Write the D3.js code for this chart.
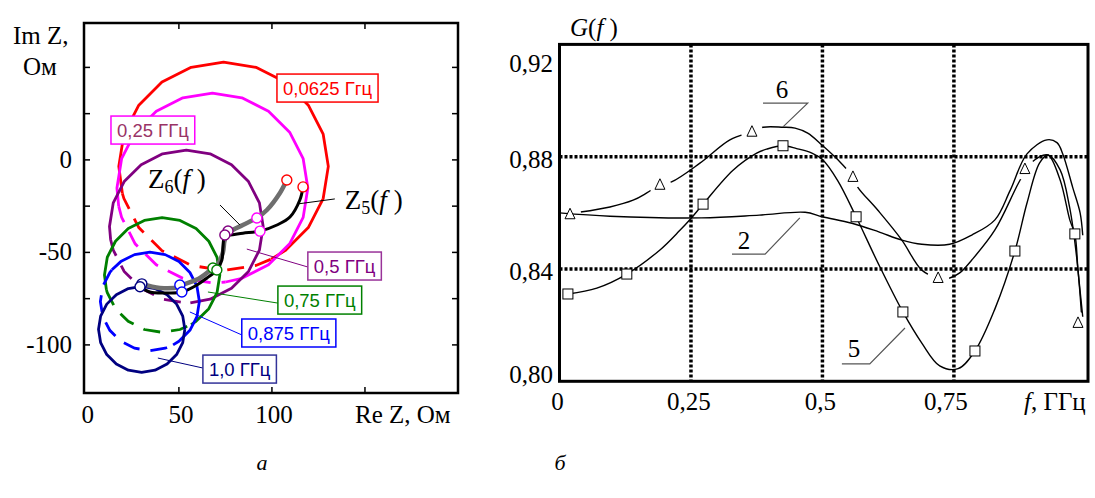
<!DOCTYPE html>
<html>
<head>
<meta charset="utf-8">
<script src="https://cdn.jsdelivr.net/npm/d3@7"></script>
<style>
  body { margin: 0; background: #fff; }
  svg { display: block; }
  text { font-family: "Liberation Serif", "Times New Roman", serif; fill: #000; }
  text.lbl { font-family: "Liberation Sans", Arial, sans-serif; }
</style>
</head>
<body>
<div id="chart"></div>
<script>
// ---------- panel а : impedance loci ----------
var freqs = ["0,0625 Ггц", "0,25 ГГц", "0,5 ГГц", "0,75 ГГц", "0,875 ГГц", "1,0 ГГц"];
var locusRe = [74, 68, 54, 41, 34.4, 30];      // centre, Re Z (Ом)
var locusIm = [-3.5, -15.2, -36, -62.2, -76.5, -91.6]; // centre, Im Z (Ом)
var locusR = [56.3, 51.3, 41.3, 31, 26.6, 23.2];
var hiddenFrom = [195, 191, 190, 195, 140, null]; // dashed part of locus, degrees
var hiddenTo = [297, 278, 273, 300, 298, null];

// Z5(f), Z6(f) curves, [Re, Im]
var z5 = [[116.7, -14.6], [115.0, -21.7], [109.7, -30.9], [102.7, -35.2], [93.6, -38.5], [84.4, -39.6],
  [77.4, -40.6], [74.7, -40.6], [73.7, -47.1], [73.1, -54.1], [70.4, -59.5], [65.1, -63.8],
  [59.7, -67.6], [51.6, -71.4], [43.6, -71.9], [34.4, -71.4], [29.1, -68.6]];
var z6 = [[108.0, -10.9], [104.3, -17.9], [97.3, -27.1], [91.9, -31.4], [84.4, -35.2], [77.4, -38.9],
  [74.7, -43.2], [73.7, -49.8], [71.0, -56.3], [68.3, -58.4], [61.3, -63.8], [52.2, -67.6],
  [50.5, -68.6], [39.8, -69.2], [30.1, -67.0]];
var z5Marks = [[116.7, -14.6], [93.6, -38.5], [74.7, -40.6], [70.4, -59.5], [51.6, -71.4], [29.1, -68.6]];
var z6Marks = [[108.0, -10.9], [91.9, -31.4], [76.4, -38.4], [68.3, -58.4], [50.5, -67.6], [30.1, -67.0]];

// label boxes (top-left corner, Ом) and leader lines
var boxRe = [102.7, 13.5, 119.3, 103.2, 83.8, 62.9];
var boxIm = [46.4, 23.7, -49.8, -68.2, -86.0, -105.5];
var leadFrom = [null, null, [86.5, -48.2], [65.6, -71.4], [55.9, -82.2], [38.7, -107.1]];
var leadTo = [null, null, [119.3, -57.9], [103.2, -77.4], [83.8, -94.6], [62.9, -112.5]];

var yTicksA = [50, 25, 0, -25, -50, -75, -100];
var yLabelsA = [0, -50, -100];
var xTicksA = [50, 100, 150];
var xLabelsA = [0, 50, 100];

// ---------- panel б : G(f) ----------
var g2F = [0, 0.096, 0.27, 0.38, 0.467, 0.5, 0.556, 0.606, 0.651, 0.689, 0.742, 0.784, 0.828, 0.857, 0.889, 0.927, 0.946, 0.957, 0.976, 0.99, 0.995];
var g2 = [0.86, 0.8588, 0.8582, 0.8592, 0.8602, 0.8586, 0.8563, 0.8533, 0.8503, 0.8488, 0.8488, 0.8521, 0.8575, 0.868, 0.881, 0.886, 0.885, 0.881, 0.869, 0.86, 0.852];

var g5F = [0.016, 0.071, 0.128, 0.191, 0.229, 0.25, 0.273, 0.33, 0.375, 0.394, 0.425, 0.451, 0.48, 0.5, 0.529, 0.564, 0.606, 0.653, 0.689, 0.723, 0.758, 0.79, 0.828, 0.866, 0.889, 0.913, 0.929, 0.952, 0.9705, 0.98, 0.986, 0.995];
var g5 = [0.8311, 0.8332, 0.8382, 0.8468, 0.8538, 0.858, 0.8631, 0.8752, 0.8813, 0.8827, 0.8839, 0.8829, 0.8813, 0.879, 0.8715, 0.8586, 0.842, 0.8247, 0.8136, 0.8055, 0.8045, 0.8108, 0.8258, 0.8464, 0.8635, 0.8778, 0.8806, 0.8717, 0.8574, 0.8525, 0.8396, 0.823];
var g5MarkF = [0.016, 0.128, 0.273, 0.425, 0.564, 0.653, 0.79, 0.866, 0.98];
var g5Mark = [0.8311, 0.8382, 0.8631, 0.8839, 0.8586, 0.8247, 0.8108, 0.8464, 0.8525];

var g6F = [0.04, 0.096, 0.14, 0.166, 0.191, 0.213, 0.267, 0.324, 0.366, 0.387, 0.425, 0.448, 0.472, 0.499, 0.53, 0.558, 0.567, 0.605, 0.651, 0.689, 0.72, 0.742, 0.761, 0.784, 0.828, 0.876, 0.898, 0.929, 0.952, 0.97, 0.984, 0.993];
var g6 = [0.8603, 0.8621, 0.8645, 0.8671, 0.87, 0.871, 0.8777, 0.886, 0.889, 0.8905, 0.8905, 0.8902, 0.8884, 0.8842, 0.8788, 0.8728, 0.8692, 0.861, 0.8503, 0.8396, 0.8368, 0.8368, 0.8386, 0.8432, 0.8539, 0.8717, 0.878, 0.8806, 0.8753, 0.862, 0.8432, 0.823];
var g6MarkF = [0.02, 0.191, 0.366, 0.558, 0.72, 0.885, 0.986];
var g6Mark = [0.8595, 0.87, 0.8889, 0.8728, 0.8368, 0.8756, 0.8208];

var gridF = [0.25, 0.5, 0.75];
var gridG = [0.84, 0.88];
var xLabelsB = [0, 0.25, 0.5, 0.75];
var xTextB = ["0", "0,25", "0,5", "0,75"];
var yLabelsB = [0.80, 0.84, 0.88, 0.92];
var yTextB = ["0,80", "0,84", "0,88", "0,92"];

// curve number callouts: text at [f,G], underline from..to, pointer end
var calloutText = ["6", "2", "5"];
var calloutAt = [[0.423, 0.9009], [0.351, 0.8471], [0.56, 0.8087]];
var calloutLine = [[0.387, 0.472, 0.8991], [0.328, 0.391, 0.8453], [0.537, 0.590, 0.8062]];
var calloutTip = [[0.425, 0.8906], [0.457, 0.8582], [0.657, 0.819]];

// ---------------------------------------------------------------
var W = 1095, H = 498;
var locusColor = ["#ff0000", "#ff00ff", "#800080", "#008000", "#0000ff", "#000080"];
var labelColor = ["#ff0000", "#993366", "#800080", "#008000", "#0000ff", "#000080"];
var boxColor = ["#ff0000", "#ff00ff", "#993399", "#008000", "#0000ff", "#333399"];

var svg = d3.select('#chart').append('svg')
	.attr('width', W)
	.attr('height', H);

var xa = d3.scaleLinear().domain([-1, 200]).range([84, 458]);
var ya = d3.scaleLinear().domain([-126, 74]).range([393, 23]);
var line = d3.line();

//points of the polygonal locus between two angles
function arcPts(i, a0, a1) {
	var angles = [a0], step = 18;
	for (var a = Math.ceil(a0 / step) * step; a < a1; a += step) {
		if (a > a0) angles.push(a);
	}
	angles.push(a1);
	return angles.map(function (a) {
		var t = a * Math.PI / 180;
		return [xa(locusRe[i] + locusR[i] * Math.cos(t)), ya(locusIm[i] + locusR[i] * Math.sin(t))];
	});
}

var panelA = svg.append('g').attr('class', 'panel-a');

freqs.forEach(function (f, i) {
	var hf = hiddenFrom[i], ht = hiddenTo[i];
	var solid = hf == null ? arcPts(i, 0, 360) : arcPts(i, ht, hf + 360);
	panelA.append('path')
		.attr('d', line(solid))
		.attr('fill', 'none')
		.attr('stroke', locusColor[i])
		.attr('stroke-width', 2.8)
		.attr('stroke-linejoin', 'round');
	if (hf != null) {
		panelA.append('path')
			.attr('d', line(arcPts(i, hf, ht)))
			.attr('fill', 'none')
			.attr('stroke', locusColor[i])
			.attr('stroke-width', 2.8)
			.attr('stroke-dasharray', '17,11');
	}
});

var zLine = d3.line()
	.x(function (d) { return xa(d[0]); })
	.y(function (d) { return ya(d[1]); })
	.curve(d3.curveCatmullRom.alpha(0.5));

panelA.append('path').attr('d', zLine(z6))
	.attr('fill', 'none').attr('stroke', '#6e6e6e').attr('stroke-width', 4.5).attr('stroke-linecap', 'round');
panelA.append('path').attr('d', zLine(z5))
	.attr('fill', 'none').attr('stroke', '#000').attr('stroke-width', 3).attr('stroke-linecap', 'round');

[z6Marks, z5Marks].forEach(function (marks) {
	panelA.append('g').selectAll('circle')
		.data(marks)
		.enter()
		.append('circle')
		.attr('cx', function (d) { return xa(d[0]); })
		.attr('cy', function (d) { return ya(d[1]); })
		.attr('r', 5)
		.attr('fill', '#fff')
		.attr('stroke', function (d, i) { return locusColor[i]; })
		.attr('stroke-width', 1.4);
});

//leaders + label boxes
freqs.forEach(function (f, i) {
	if (leadFrom[i]) {
		panelA.append('line')
			.attr('x1', xa(leadFrom[i][0])).attr('y1', ya(leadFrom[i][1]))
			.attr('x2', xa(leadTo[i][0])).attr('y2', ya(leadTo[i][1]))
			.attr('stroke', locusColor[i]).attr('stroke-width', 1);
	}
	var bx = xa(boxRe[i]), by = ya(boxIm[i]);
	var box = panelA.append('rect');
	var t = panelA.append('text')
		.attr('class', 'lbl')
		.attr('x', bx + 6)
		.attr('y', by + 21)
		.attr('font-size', 18.5)
		.style('fill', labelColor[i])
		.text(f);
	var w = t.node().getComputedTextLength();
	box.attr('x', bx).attr('y', by)
		.attr('width', w + 12).attr('height', 28)
		.attr('fill', '#fff')
		.attr('stroke', boxColor[i])
		.attr('stroke-width', 1.5);
});

//Z labels
function zLabel(re, im, sub) {
	var t = panelA.append('text')
		.attr('x', xa(re)).attr('y', ya(im))
		.attr('font-size', 27);
	t.append('tspan').text('Z');
	t.append('tspan').attr('font-size', 18).attr('dy', 5).text(sub);
	t.append('tspan').attr('dy', -5).text('(');
	t.append('tspan').attr('font-style', 'italic').text('f');
	t.append('tspan').text(' )');
}
zLabel(33.4, -15.2, '6');
zLabel(139.2, -26.5, '5');
panelA.append('line')
	.attr('x1', xa(72.1)).attr('y1', ya(-24.4)).attr('x2', xa(82.8)).attr('y2', ya(-35.2))
	.attr('stroke', '#000').attr('stroke-width', 1);
panelA.append('line')
	.attr('x1', xa(133.8)).attr('y1', ya(-21.1)).attr('x2', xa(113.9)).attr('y2', ya(-23.8))
	.attr('stroke', '#000').attr('stroke-width', 1);

//frame & ticks
panelA.append('rect')
	.attr('x', xa(-1)).attr('y', ya(74))
	.attr('width', xa(200) - xa(-1)).attr('height', ya(-126) - ya(74))
	.attr('fill', 'none').attr('stroke', '#000').attr('stroke-width', 2.5);
yTicksA.forEach(function (v) {
	panelA.append('line').attr('x1', xa(-1)).attr('x2', xa(-1) + 6).attr('y1', ya(v)).attr('y2', ya(v)).attr('stroke', '#000').attr('stroke-width', 1.5);
	panelA.append('line').attr('x1', xa(200)).attr('x2', xa(200) - 6).attr('y1', ya(v)).attr('y2', ya(v)).attr('stroke', '#000').attr('stroke-width', 1.5);
});
xTicksA.forEach(function (v) {
	panelA.append('line').attr('x1', xa(v)).attr('x2', xa(v)).attr('y1', ya(74)).attr('y2', ya(74) + 6).attr('stroke', '#000').attr('stroke-width', 1.5);
	panelA.append('line').attr('x1', xa(v)).attr('x2', xa(v)).attr('y1', ya(-126)).attr('y2', ya(-126) - 6).attr('stroke', '#000').attr('stroke-width', 1.5);
});
yLabelsA.forEach(function (v) {
	panelA.append('text').attr('x', 72).attr('y', ya(v) + 8).attr('text-anchor', 'end').attr('font-size', 25)
		.text(v < 0 ? '-' + (-v) : String(v));
});
xLabelsA.forEach(function (v) {
	panelA.append('text').attr('x', xa(v) + 2).attr('y', 423).attr('text-anchor', 'middle').attr('font-size', 25).text(String(v));
});
panelA.append('text').attr('x', 13).attr('y', 44).attr('font-size', 25).text('Im Z,');
panelA.append('text').attr('x', 23).attr('y', 75).attr('font-size', 25).text('Ом');
panelA.append('text').attr('x', 355).attr('y', 423).attr('font-size', 25).text('Re Z, Ом');
panelA.append('text').attr('x', 262).attr('y', 470).attr('text-anchor', 'middle').attr('font-size', 22).attr('font-style', 'italic').text('а');

// ---------------- panel б ----------------
var xb = d3.scaleLinear().domain([0, 1.005]).range([559.5, 1088]);
var yb = d3.scaleLinear().domain([0.80, 0.92]).range([381.3, 44.4]);
var panelB = svg.append('g').attr('class', 'panel-b');

gridF.forEach(function (v) {
	panelB.append('line').attr('x1', xb(v)).attr('x2', xb(v)).attr('y1', yb(0.92)).attr('y2', yb(0.80))
		.attr('stroke', '#000').attr('stroke-width', 3.5).attr('stroke-dasharray', '3,2');
});
gridG.forEach(function (v) {
	panelB.append('line').attr('x1', xb(0)).attr('x2', xb(1.005)).attr('y1', yb(v)).attr('y2', yb(v))
		.attr('stroke', '#000').attr('stroke-width', 3.5).attr('stroke-dasharray', '3,2');
});

function gLine(fs, gs) {
	return d3.line()
		.x(function (d, i) { return xb(fs[i]); })
		.y(function (d, i) { return yb(gs[i]); })
		.curve(d3.curveCatmullRom.alpha(0.5))(fs);
}

//gaps around the triangles of curve 6
var mask = svg.append('defs').append('mask')
	.attr('id', 'gap6')
	.attr('maskUnits', 'userSpaceOnUse')
	.attr('x', 0).attr('y', 0).attr('width', W).attr('height', H);
mask.append('rect').attr('width', W).attr('height', H).attr('fill', '#fff');
mask.selectAll('circle')
	.data(g6MarkF)
	.enter()
	.append('circle')
	.attr('cx', function (d) { return xb(d); })
	.attr('cy', function (d, i) { return yb(g6Mark[i]); })
	.attr('r', 11)
	.attr('fill', '#000');

panelB.append('path').attr('d', gLine(g2F, g2)).attr('fill', 'none').attr('stroke', '#000').attr('stroke-width', 1.4);
panelB.append('path').attr('d', gLine(g5F, g5)).attr('fill', 'none').attr('stroke', '#000').attr('stroke-width', 1.4);
panelB.append('path').attr('d', gLine(g6F, g6)).attr('fill', 'none').attr('stroke', '#000').attr('stroke-width', 1.4)
	.attr('mask', 'url(#gap6)');

panelB.append('g').selectAll('rect')
	.data(g5MarkF)
	.enter()
	.append('rect')
	.attr('x', function (d) { return xb(d) - 5; })
	.attr('y', function (d, i) { return yb(g5Mark[i]) - 5; })
	.attr('width', 10).attr('height', 10)
	.attr('fill', '#fff').attr('stroke', '#000').attr('stroke-width', 1);

panelB.append('g').selectAll('path')
	.data(g6MarkF)
	.enter()
	.append('path')
	.attr('transform', function (d, i) { return 'translate(' + xb(d) + ',' + yb(g6Mark[i]) + ')'; })
	.attr('d', 'M0,-6L5,4.5L-5,4.5Z')
	.attr('fill', '#fff').attr('stroke', '#000').attr('stroke-width', 1);

//callouts
calloutText.forEach(function (c, i) {
	var l = calloutLine[i];
	panelB.append('path')
		.attr('d', line([[xb(l[0]), yb(l[2])], [xb(l[1]), yb(l[2])], [xb(calloutTip[i][0]), yb(calloutTip[i][1])]]))
		.attr('fill', 'none').attr('stroke', '#555').attr('stroke-width', 1.2);
	panelB.append('text')
		.attr('x', xb(calloutAt[i][0])).attr('y', yb(calloutAt[i][1]))
		.attr('text-anchor', 'middle').attr('font-size', 25).text(c);
});

panelB.append('rect')
	.attr('x', xb(0)).attr('y', yb(0.92))
	.attr('width', xb(1.005) - xb(0)).attr('height', yb(0.80) - yb(0.92))
	.attr('fill', 'none').attr('stroke', '#000').attr('stroke-width', 3);

yLabelsB.forEach(function (v, i) {
	panelB.append('text')
		.attr('x', 553)
		.attr('y', Math.min(Math.max(yb(v) + 11, 72), 383))
		.attr('text-anchor', 'end').attr('font-size', 25).text(yTextB[i]);
});
xLabelsB.forEach(function (v, i) {
	panelB.append('text')
		.attr('x', xb(v) - (i === 3 ? 8 : 2))
		.attr('y', 410)
		.attr('text-anchor', 'middle').attr('font-size', 25).text(xTextB[i]);
});

var gt = panelB.append('text').attr('x', 570).attr('y', 36).attr('font-size', 25);
gt.append('tspan').attr('font-style', 'italic').text('G');
gt.append('tspan').text('(');
gt.append('tspan').attr('font-style', 'italic').text('f');
gt.append('tspan').text(' )');

var ft = panelB.append('text').attr('x', 1024).attr('y', 410).attr('font-size', 25);
ft.append('tspan').attr('font-style', 'italic').text('f');
ft.append('tspan').text(', ГГц');

panelB.append('text').attr('x', 560).attr('y', 470).attr('text-anchor', 'middle').attr('font-size', 22).attr('font-style', 'italic').text('б');
</script>
</body>
</html>
